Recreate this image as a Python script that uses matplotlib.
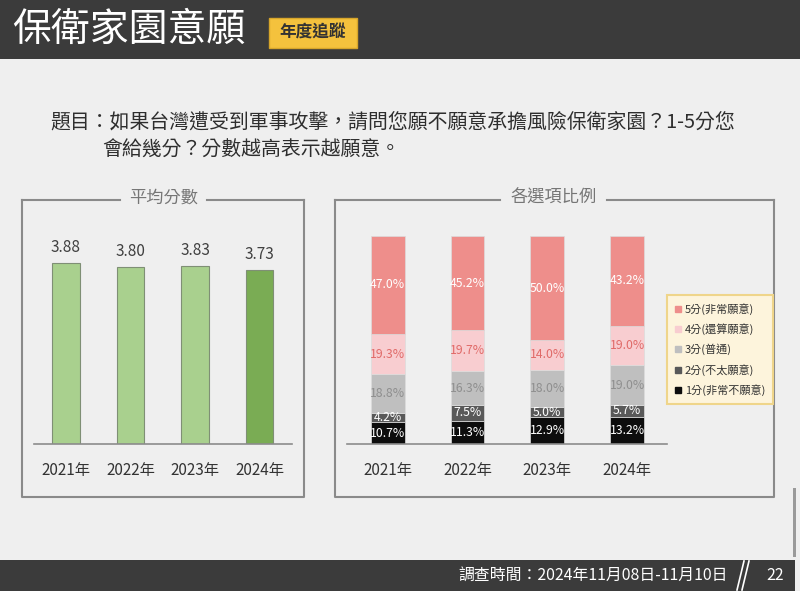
import matplotlib
matplotlib.use("Agg")
import matplotlib.pyplot as plt
from matplotlib.patches import Rectangle
from matplotlib.lines import Line2D

plt.rcParams['font.family'] = ['Noto Sans CJK TC', 'DejaVu Sans']

# 資料
years = ['2021年', '2022年', '2023年', '2024年']
avg_scores = [3.88, 3.80, 3.83, 3.73]

level_names = ['5分(非常願意)', '4分(還算願意)', '3分(普通)', '2分(不太願意)', '1分(非常不願意)']
p5 = [47.0, 45.2, 50.0, 43.2]
p4 = [19.3, 19.7, 14.0, 19.0]
p3 = [18.8, 16.3, 18.0, 19.0]
p2 = [4.2, 7.5, 5.0, 5.7]
p1 = [10.7, 11.3, 12.9, 13.2]

W, H = 800, 591
fig = plt.figure(figsize=(W / 100, H / 100), dpi=100, facecolor='#efefef')


def px_box(x0, y0, x1, y1):
    return [x0 / W, 1 - y1 / H, (x1 - x0) / W, (y1 - y0) / H]


# 背景 (像素座標)
bg = fig.add_axes([0, 0, 1, 1])
bg.set_xlim(0, W)
bg.set_ylim(H, 0)
bg.axis('off')

bg.add_patch(Rectangle((0, 0), W, 59, color='#3b3b3b', lw=0))
bg.text(12, 30, '保衛家園意願', color='white', fontsize=28, va='center', ha='left')
bg.add_patch(Rectangle((269, 18), 88, 30, facecolor='#f4c23d', edgecolor='#d6a52a', lw=1))
bg.text(313, 33, '年度追蹤', color='#333333', fontsize=12, fontweight='bold', va='center', ha='center')

bg.text(50, 122, '題目：如果台灣遭受到軍事攻擊，請問您願不願意承擔風險保衛家園？1-5分您',
        fontsize=14.3, color='#2e2e2e', va='center', ha='left')
bg.text(102, 150, '會給幾分？分數越高表示越願意。',
        fontsize=14.3, color='#2e2e2e', va='center', ha='left')

# 外框
box_c, box_w = '#8a8a8a', 1.5
for (x0, x1, gap0, gap1, title) in [(22, 304, 120, 207, '平均分數'), (335, 774, 500, 607, '各選項比例')]:
    bg.plot([x0, gap0], [200, 200], color=box_c, lw=box_w)
    bg.plot([gap1, x1], [200, 200], color=box_c, lw=box_w)
    bg.plot([x0, x0, x1, x1], [200, 497, 497, 200], color=box_c, lw=box_w)
    bg.text((gap0 + gap1) / 2, 198, title, fontsize=12.4, color='#767676', va='center', ha='center')

# 頁尾
bg.add_patch(Rectangle((0, 560), 795, 31, color='#3b3b3b', lw=0))
bg.text(728, 575, '調查時間：2024年11月08日-11月10日', color='white', fontsize=11.4,
        va='center', ha='right')
bg.plot([737, 744], [590, 561], color='white', lw=1.2)
bg.plot([742, 749], [590, 561], color='white', lw=1.2)
bg.text(775, 575, '22', color='white', fontsize=11.4, va='center', ha='center')
bg.add_patch(Rectangle((793, 488), 3, 69, color='#9a9a9a', lw=0))

# 左圖：平均分數
ax1 = fig.add_axes(px_box(33.75, 200, 291.75, 444))
ax1.patch.set_visible(False)
xs = range(len(years))
colors1 = ['#a9d08e', '#a9d08e', '#a9d08e', '#7aac54']
ax1.bar(xs, avg_scores, width=0.42, color=colors1, edgecolor='#7f8f75', linewidth=0.8)
for x, v in zip(xs, avg_scores):
    ax1.annotate(f'{v:.2f}', (x, v), xytext=(0, 11), textcoords='offset points',
                 ha='center', va='center', fontsize=11, color='#404040')
ax1.set_xlim(-0.5, 3.5)
ax1.set_ylim(0, 244 / 46.6)
ax1.set_xticks(list(xs), years)
ax1.set_yticks([])
for s in ['top', 'left', 'right']:
    ax1.spines[s].set_visible(False)
ax1.spines['bottom'].set_color('#8c8c8c')
ax1.spines['bottom'].set_linewidth(1.2)
ax1.tick_params(axis='x', length=0, pad=13, labelsize=11, labelcolor='#333333')

# 右圖：各選項比例
ax2 = fig.add_axes(px_box(347, 236, 667, 444.3))
ax2.patch.set_visible(False)
stack = [p1, p2, p3, p4, p5]
seg_colors = ['#0d0d0d', '#595959', '#bfbfbf', '#f8cdd0', '#ee8e8b']
txt_colors = ['white', 'white', '#8f8f8f', '#e06a68', 'white']
names_bottom_up = level_names[::-1]
bottom = [0.0] * len(years)
handles = {}
for vals, c, tc, name in zip(stack, seg_colors, txt_colors, names_bottom_up):
    ax2.bar(xs, vals, width=0.426, bottom=bottom, color=c, edgecolor='#dcdcdc', linewidth=0.5)
    for x, v, b in zip(xs, vals, bottom):
        ax2.text(x, b + v / 2, f'{v:.1f}%', ha='center', va='center', fontsize=8.8, color=tc)
    handles[name] = Line2D([], [], marker='s', linestyle='none', markersize=4.5,
                           markerfacecolor=c, markeredgecolor=c)
    bottom = [b + v for b, v in zip(bottom, vals)]
ax2.set_xlim(-0.51, 3.5)
ax2.set_ylim(0, 100)
ax2.set_xticks(list(xs), years)
ax2.set_yticks([])
for s in ['top', 'left', 'right']:
    ax2.spines[s].set_visible(False)
ax2.spines['bottom'].set_color('#8c8c8c')
ax2.spines['bottom'].set_linewidth(1.2)
ax2.tick_params(axis='x', length=0, pad=13, labelsize=11, labelcolor='#333333')

# 圖例
leg = ax2.legend([handles[n] for n in level_names], level_names,
                 loc='upper left', bbox_to_anchor=(667 / W, 1 - 295 / H),
                 bbox_transform=fig.transFigure, borderaxespad=0,
                 fontsize=8, labelspacing=0.78, handlelength=0.6, handletextpad=0.3,
                 borderpad=0.7, fancybox=False, frameon=True)
leg.get_frame().set_facecolor('#fdf4dc')
leg.get_frame().set_edgecolor('#efd58a')
leg.get_frame().set_linewidth(1.5)
leg.get_frame().set_alpha(1)
for t in leg.get_texts():
    t.set_color('#333333')

fig.savefig('out.png', dpi=100, facecolor=fig.get_facecolor())
